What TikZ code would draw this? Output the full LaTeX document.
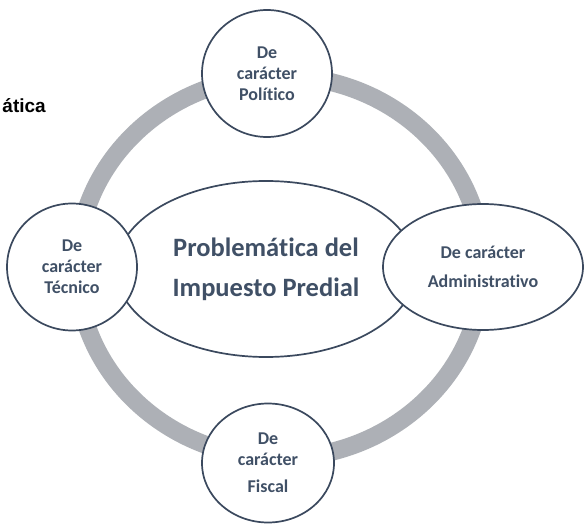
\documentclass[tikz,border=0pt]{standalone}
\usepackage{fontspec}
\setmainfont{Carlito}[Ligatures={NoCommon}]
\newfontfamily\arialfont{Liberation Sans}
\usetikzlibrary{shapes.geometric}
\definecolor{outl}{RGB}{59,73,94}
\definecolor{txt}{RGB}{64,80,102}
\definecolor{ringc}{RGB}{173,176,182}
\tikzset{
  ringpath/.style={draw=ringc, line width=18pt},
  bub/.style={ellipse, draw=outl, line width=1.7pt, fill=white, inner sep=0pt,
    text=txt, font=\fontsize{18}{21}\selectfont\bfseries, align=center},
  hub/.style={bub, font=\fontsize{26.5}{40}\selectfont\bfseries},
}
\begin{document}
\begin{tikzpicture}[x=1pt,y=-1pt]
\useasboundingbox (0,0) rectangle (584,524);
\fill[white] (0,0) rectangle (584,524);
\coordinate (rc) at (280,267);
\draw[ringpath] (rc) ellipse [x radius=203pt, y radius=191pt];
\node[hub, minimum width=300pt, minimum height=176pt] (hub) at (266,269)
  {Problemática del\\Impuesto Predial};
\node[bub, minimum width=130pt, minimum height=127pt] (pol) at (267,73.5)
  {De\\carácter\\Político};
\node[bub, minimum width=130pt, minimum height=127pt] (tec) at (72,267)
  {De\\carácter\\Técnico};
\node[bub, minimum width=200pt, minimum height=126pt, font=\fontsize{18}{29}\selectfont\bfseries] (adm) at (483,267)
  {De carácter\\Administrativo};
\node[bub, minimum width=132pt, minimum height=119pt] (fis) at (268,463)
  {De\\carácter\\[6pt]Fiscal};
\node[anchor=base east, inner sep=0pt, font=\arialfont\bfseries\fontsize{19}{22}\selectfont] (tit) at (46,113) {ática};
\end{tikzpicture}
\end{document}
